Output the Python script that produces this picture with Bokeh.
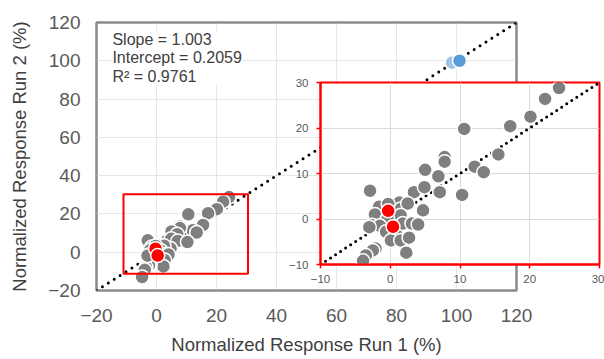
from bokeh.plotting import figure
from bokeh.models import Range1d, FixedTicker, Label
from bokeh.embed import file_html
from bokeh.resources import INLINE

# ---- data ----
gray_x = [24.2, 22.2, 20.1, 17.2, 10.6, 15.5, 12.1, 13.4, 7.8, 7.8, 5.0, 6.9,
          -2.9, 3.4, 4.9, 7.1, 10.3, 4.7, 1.3, 1.5, 2.5, -1.6, -0.3, -2.2, 1.5,
          -0.4, -2.6, -1.5, -0.6, 0.8, 1.8, 3.1, 4.0, 0.1, 1.5, 2.7, 2.3, -2.1,
          -2.5, -3.5, -3.9, -4.8, -3.0]
gray_y = [28.8, 26.4, 22.5, 20.4, 19.8, 14.2, 11.5, 10.3, 13.6, 12.6, 10.8, 9.4,
          6.2, 5.9, 7.0, 5.9, 5.3, 1.9, 3.6, 2.2, 3.4, 2.7, 3.3, 1.0, 0.8,
          0.1, -1.4, -1.5, -2.8, -3.2, -1.0, -1.0, -1.2, -4.7, -4.7, -4.1, -7.4, -6.5,
          -6.9, -8.0, -9.2, -13.0, -1.8]
red_x = [-0.3, 0.4]
red_y = [1.8, -1.7]
blue_x = [98.5, 101.0]
blue_y = [99.0, 100.0]
blue_colors = ["#9dc3e6", "#5b9bd5"]
fit_x = [-20, 120]
fit_y = [-20, 120]
inset_fit_x = [-10, 30]
inset_fit_y = [-10, 30]
zoom_box_x = [-11.0, 30.5]
zoom_box_y = [-11.2, 30.3]
main_ticks = [-20, 0, 20, 40, 60, 80, 100, 120]
inset_ticks = [-10, 0, 10, 20, 30]
stats_text = "Slope = 1.003\nIntercept = 0.2059\nR\u00b2 = 0.9761"

FONT = "Liberation Sans"
GRAY = "#7f7f7f"
RED = "#ff0000"

# ---- main figure ----
p = figure(width=604, height=359, output_backend="svg", toolbar_location=None,
           x_range=Range1d(-20, 120), y_range=Range1d(-20, 120),
           min_border_left=96, min_border_right=88, min_border_top=22,
           min_border_bottom=69)
p.background_fill_color = "white"
p.border_fill_color = "white"
p.outline_line_color = "#8a8a8a"
p.outline_line_width = 2.5

for ax in (p.xaxis[0], p.yaxis[0]):
    ax.ticker = FixedTicker(ticks=main_ticks)
    ax.axis_line_color = None
    ax.major_tick_line_color = None
    ax.major_tick_out = 0
    ax.major_tick_in = 0
    ax.minor_tick_line_color = None
    ax.minor_tick_out = 0
    ax.major_label_text_font = FONT
    ax.major_label_text_font_size = "19px"
    ax.major_label_text_color = "#595959"
    ax.axis_label_text_font = FONT
    ax.axis_label_text_font_size = "18.5px"
    ax.axis_label_text_color = "#404040"
    ax.axis_label_text_font_style = "normal"
p.xaxis.axis_label = "Normalized Response Run 1 (%)"
p.yaxis.axis_label = "Normalized Response Run 2 (%)"
p.xaxis.major_label_standoff = 18
p.xaxis.axis_label_standoff = 9
p.yaxis.major_label_standoff = 16
p.yaxis.axis_label_standoff = 15

p.grid.grid_line_color = "#cfcfcf"
p.grid.grid_line_dash = "1 1"
p.grid.grid_line_width = 1
p.xgrid.ticker = FixedTicker(ticks=main_ticks)
p.ygrid.ticker = FixedTicker(ticks=main_ticks)

p.line(fit_x, fit_y, line_color="black", line_width=3, line_dash="0 7",
       line_cap="round")
p.scatter(gray_x, gray_y, size=14, fill_color=GRAY, line_color="white",
          line_width=1.5)
p.scatter(blue_x, blue_y, size=14, fill_color=blue_colors, line_color="white",
          line_width=1.5)
p.scatter(red_x, red_y, size=14, fill_color=RED, line_color="white",
          line_width=1.5)
p.quad(left=zoom_box_x[0], right=zoom_box_x[1], bottom=zoom_box_y[0],
       top=zoom_box_y[1], fill_color=None, line_color=RED, line_width=2)

p.add_layout(Label(x=-14.7, y=115.5, text=stats_text, text_font=FONT,
                   text_font_size="16px", text_color="#404040",
                   text_align="left", text_baseline="top",
                   background_fill_color="white", text_line_height=1.08))

# ---- inset figure ----
ins = figure(width=319, height=218, output_backend="svg", toolbar_location=None,
             x_range=Range1d(-10, 30), y_range=Range1d(-10, 30),
             min_border_left=35, min_border_right=5, min_border_top=6,
             min_border_bottom=30)
ins.background_fill_color = "white"
ins.border_fill_alpha = 0
ins.border_fill_color = None
ins.outline_line_color = RED
ins.outline_line_width = 2
for ax in (ins.xaxis[0], ins.yaxis[0]):
    ax.ticker = FixedTicker(ticks=inset_ticks)
    ax.axis_line_color = RED
    ax.axis_line_width = 2
    ax.major_tick_line_color = RED
    ax.major_tick_line_width = 1.5
    ax.major_tick_out = 4
    ax.major_tick_in = 0
    ax.minor_tick_line_color = None
    ax.minor_tick_out = 0
    ax.major_label_text_font = FONT
    ax.major_label_text_font_size = "11.5px"
    ax.major_label_text_color = "#595959"
ins.xaxis.major_label_standoff = 6
ins.yaxis.major_label_standoff = 8
ins.grid.grid_line_color = "#d9d9d9"
ins.grid.grid_line_width = 1
ins.xgrid.ticker = FixedTicker(ticks=inset_ticks)
ins.ygrid.ticker = FixedTicker(ticks=inset_ticks)

ins.line(inset_fit_x, inset_fit_y, line_color="black", line_width=3,
         line_dash="0 6", line_cap="round")
ins.scatter(gray_x, gray_y, size=14, fill_color=GRAY, line_color="white",
            line_width=1.5)
ins.scatter(red_x, red_y, size=14, fill_color=RED, line_color="white",
            line_width=1.5)

ins.styles = {"position": "absolute", "left": "285px", "top": "76px"}

open("out.html", "w").write(file_html([p, ins], INLINE))
